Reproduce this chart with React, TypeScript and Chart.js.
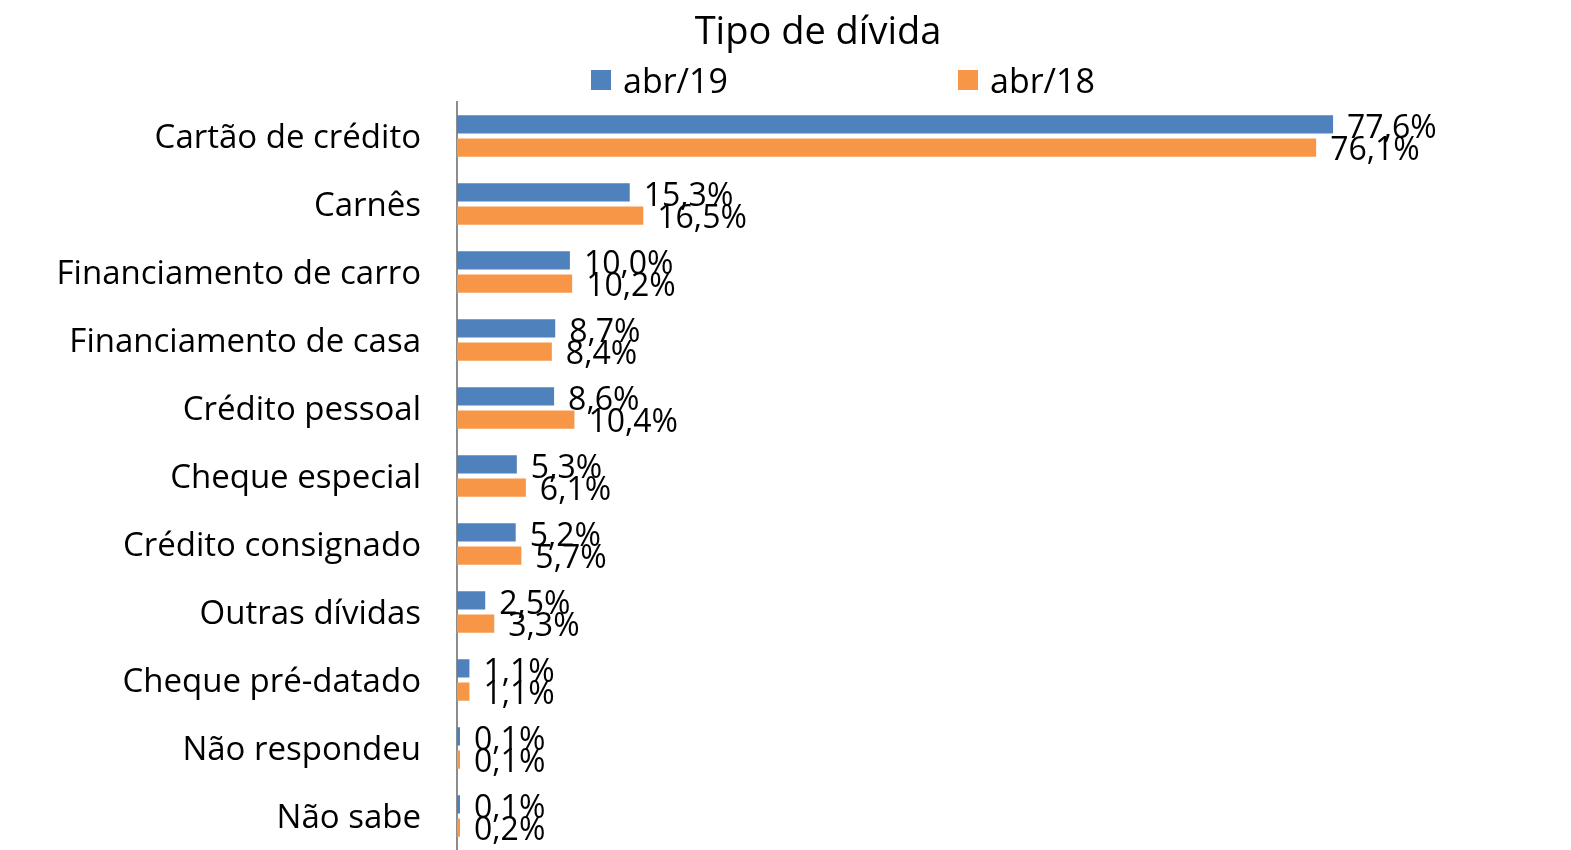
import React, { useEffect, useRef } from 'react';
import { Chart, registerables } from 'chart.js';

Chart.register(...registerables);

const categories = [
  'Cartão de crédito',
  'Carnês',
  'Financiamento de carro',
  'Financiamento de casa',
  'Crédito pessoal',
  'Cheque especial',
  'Crédito consignado',
  'Outras dívidas',
  'Cheque pré-datado',
  'Não respondeu',
  'Não sabe',
];
const abr19 = [77.6, 15.3, 10.0, 8.7, 8.6, 5.3, 5.2, 2.5, 1.1, 0.1, 0.1];
const abr18 = [76.1, 16.5, 10.2, 8.4, 10.4, 6.1, 5.7, 3.3, 1.1, 0.1, 0.2];
const seriesNames = ['abr/19', 'abr/18'];
const titleText = 'Tipo de dívida';

const BLUE = '#4F81BD';
const ORANGE = '#F79646';
const FONT = '"Open Sans", Lato, sans-serif';

const fmt = (v: number) => v.toFixed(1).replace('.', ',') + '%';

const valueLabels = {
  id: 'valueLabels',
  afterDatasetsDraw(chart: any) {
    const ctx = chart.ctx;
    ctx.save();
    ctx.font = `32px ${FONT}`;
    ctx.fillStyle = '#000';
    ctx.textAlign = 'left';
    ctx.textBaseline = 'middle';
    chart.data.datasets.forEach((ds: any, di: number) => {
      const meta = chart.getDatasetMeta(di);
      meta.data.forEach((el: any, i: number) => {
        ctx.fillText(fmt(ds.data[i]), el.x + 14, el.y + (di === 0 ? 5 : 3));
      });
    });
    ctx.restore();
  },
};

const legendRow = {
  id: 'legendRow',
  afterDraw(chart: any) {
    const ctx = chart.ctx;
    const y = 80;
    const starts = [591, 958];
    ctx.save();
    ctx.font = `34px ${FONT}`;
    ctx.textBaseline = 'middle';
    ctx.textAlign = 'left';
    chart.data.datasets.forEach((ds: any, i: number) => {
      const x = starts[i];
      ctx.fillStyle = ds.backgroundColor;
      ctx.fillRect(x, y - 10, 20, 20);
      ctx.fillStyle = '#000';
      ctx.fillText(ds.label, x + 32, y + 3);
    });
    ctx.restore();
  },
};

// let the category labels use the space left of the layout padding
const widenLabelArea = {
  id: 'widenLabelArea',
  afterLayout(chart: any) {
    const y = chart.scales.y;
    if (y) {
      y.left = 0;
      y.width = y.right;
    }
  },
};

export default function App() {
  const ref = useRef<HTMLCanvasElement | null>(null);
  useEffect(() => {
    if (!ref.current) return;
    const chart = new Chart(ref.current, {
      type: 'bar',
      data: {
        labels: categories,
        datasets: [
          {
            label: seriesNames[0],
            data: abr19,
            backgroundColor: BLUE,
            categoryPercentage: 0.684,
            barPercentage: 0.785,
            minBarLength: 3,
          },
          {
            label: seriesNames[1],
            data: abr18,
            backgroundColor: ORANGE,
            categoryPercentage: 0.684,
            barPercentage: 0.785,
            minBarLength: 3,
          },
        ],
      },
      options: {
        indexAxis: 'y',
        responsive: false,
        maintainAspectRatio: false,
        animation: false,
        layout: { padding: { left: 76, right: 11, top: 0, bottom: 0 } },
        plugins: {
          legend: { display: false },
          tooltip: { enabled: false },
          title: {
            display: true,
            text: titleText,
            color: '#000',
            font: { family: FONT, size: 38, weight: 'normal' },
            padding: { top: 10, bottom: 46.4 },
          },
        },
        scales: {
          x: { display: false, min: 0, max: 97.7 },
          y: {
            afterFit: (s: any) => {
              s.width = 381;
              s.paddingTop = 0;
              s.paddingBottom = 0;
            },
            grid: { display: false, drawTicks: false },
            border: { display: true, color: '#8C8C8C', width: 2 },
            ticks: {
              color: '#000',
              padding: 36,
              labelOffset: 3,
              font: { family: FONT, size: 33 },
            },
          },
        },
      },
      plugins: [widenLabelArea, valueLabels, legendRow],
    });
    return () => chart.destroy();
  }, []);
  return (
    <div style={{ position: 'fixed', left: 0, top: 0, width: 1571, height: 850, background: '#fff' }}>
      <canvas ref={ref} width={1571} height={850} />
    </div>
  );
}
